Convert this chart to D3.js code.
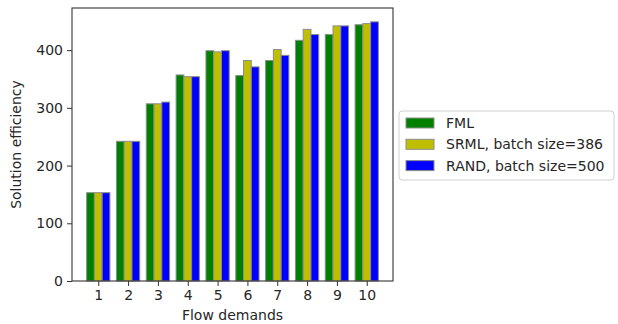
<!DOCTYPE html>
<html>
<head>
<meta charset="utf-8">
<script src="https://cdn.jsdelivr.net/npm/d3@7"></script>
<style>
  body { margin: 0; background: #fff; }
  text { font-family: "DejaVu Sans", sans-serif; fill: #262626; }
</style>
</head>
<body>
<div id="chart"></div>
<script>
let demands = [1, 2, 3, 4, 5, 6, 7, 8, 9, 10];
let seriesNames = ["FML", "SRML, batch size=386", "RAND, batch size=500"];
let seriesColors = ["#008000", "#bfbf00", "#0000ff"];
let fml = [153, 242, 307, 357, 399, 356, 382, 417, 427, 444];
let srml = [153, 242, 307, 354, 397, 382, 401, 436, 442, 446];
let rand = [153, 242, 310, 354, 399, 371, 391, 427, 442, 449];
let yTicks = [0, 100, 200, 300, 400];

let allSeries = [fml, srml, rand];

let margin = { top: 8, left: 72 },
  width = 321,
  height = 273;
let fontSize = "14px";

let svg = d3.select("#chart")
  .append("svg")
  .attr("width", 618)
  .attr("height", 324)
  .append("g")
  .attr("transform", "translate(" + margin.left + "," + margin.top + ")");

let barW = 0.26;
let x = d3.scaleLinear().domain([0.12, 10.88]).range([0, width]);
let y = d3.scaleLinear().domain([0, 473]).range([height, 0]);

// bars
allSeries.forEach(function (vals, i) {
  svg.selectAll(".bar" + i)
    .data(vals)
    .enter()
    .append("rect")
    .attr("x", function (d, j) { return x(demands[j] + (i - 1.5) * barW); })
    .attr("width", x(barW) - x(0))
    .attr("y", function (d) { return y(d); })
    .attr("height", function (d) { return y(0) - y(d); })
    .attr("fill", seriesColors[i])
    .attr("stroke", "#8c8c8c")
    .attr("stroke-width", 1);
});

// axes
let xAxis = svg.append("g")
  .attr("transform", "translate(0," + height + ")")
  .call(d3.axisBottom(x).tickValues(demands).tickSize(5).tickPadding(4).tickFormat(d3.format("d")));
let yAxis = svg.append("g")
  .call(d3.axisLeft(y).tickValues(yTicks).tickSize(5).tickPadding(4));
[xAxis, yAxis].forEach(function (a) {
  a.selectAll("text").style("font-size", fontSize).attr("fill", "#262626");
  a.selectAll("line").attr("stroke", "#333");
  a.select(".domain").remove();
});

// frame
svg.append("rect")
  .attr("width", width)
  .attr("height", height)
  .attr("fill", "none")
  .attr("stroke", "#333")
  .attr("stroke-width", 1.1);

svg.append("text")
  .attr("x", width / 2)
  .attr("y", height + 39)
  .style("text-anchor", "middle")
  .style("font-size", fontSize)
  .text("Flow demands");

svg.append("text")
  .attr("transform", "rotate(-90)")
  .attr("x", -height / 2)
  .attr("y", -51)
  .style("text-anchor", "middle")
  .style("font-size", fontSize)
  .text("Solution efficiency");

// legend
let legend = d3.select("svg").append("g").attr("transform", "translate(399,111)");
legend.append("rect")
  .attr("width", 215)
  .attr("height", 69)
  .attr("rx", 3)
  .attr("fill", "#fff")
  .attr("stroke", "#d0d0d0");
seriesNames.forEach(function (name, i) {
  legend.append("rect")
    .attr("x", 7)
    .attr("y", 7 + i * 21.3)
    .attr("width", 28)
    .attr("height", 10)
    .attr("fill", seriesColors[i])
    .attr("stroke", "#8c8c8c");
  legend.append("text")
    .attr("x", 47)
    .attr("y", 17 + i * 21.3)
    .style("font-size", fontSize)
    .text(name);
});
</script>
</body>
</html>
